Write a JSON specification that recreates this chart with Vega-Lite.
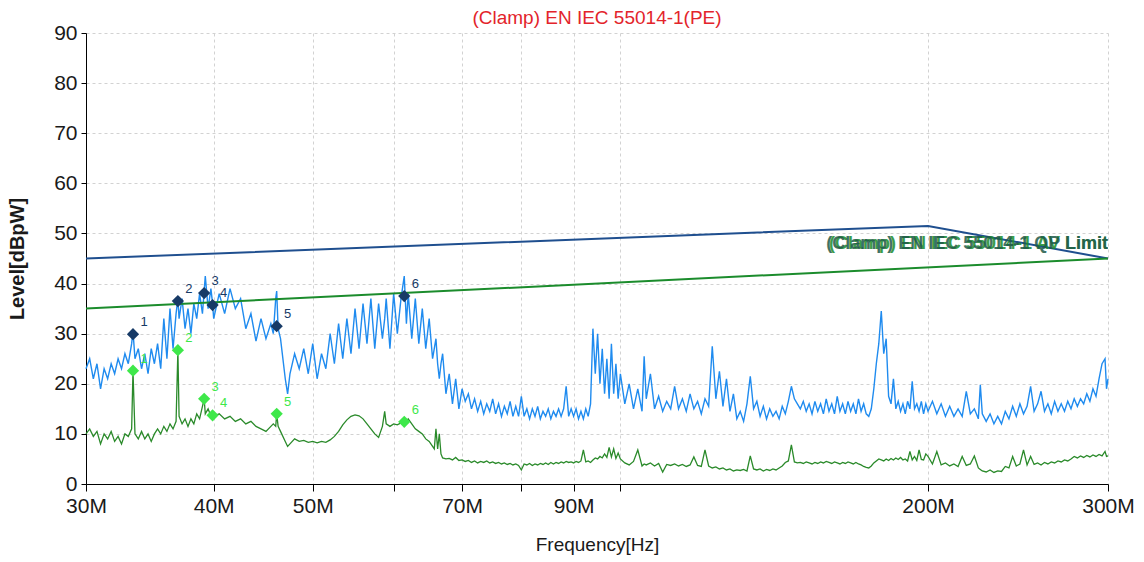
{
"$schema": "https://vega.github.io/schema/vega-lite/v6.json",
"width": 1022, "height": 451,
"autosize": "none",
"padding": {"left": 86, "top": 33, "right": 36, "bottom": 78},
"background": "white",
"title": {"text": "(Clamp) EN IEC 55014-1(PE)", "color": "#e3242b", "fontSize": 19, "font": "Liberation Sans", "fontWeight": "normal", "offset": -6},
"config": {"view": {"stroke": null}},
"datasets": {
"spec": [
{"f":30,"pk":23,"av":10},{"f":30.25,"pk":25,"av":11},{"f":30.5,"pk":21,"av":9.5},{"f":30.75,"pk":24,"av":10.5},{"f":31,"pk":19,"av":8},{"f":31.25,"pk":23,"av":10},{"f":31.5,"pk":21,"av":9},{"f":31.75,"pk":24,"av":10.5},{"f":32,"pk":22,"av":8.5},{"f":32.25,"pk":25,"av":9.5},{"f":32.5,"pk":23,"av":8},{"f":32.75,"pk":26,"av":10},{"f":33,"pk":24,"av":9.5},{"f":33.25,"pk":28,"av":11},{"f":33.35,"pk":30.5,"av":22.6},{"f":33.5,"pk":25,"av":10},{"f":33.75,"pk":27,"av":9},{"f":34,"pk":23,"av":10.5},{"f":34.25,"pk":26,"av":9},{"f":34.5,"pk":22,"av":10},{"f":34.75,"pk":27,"av":8.5},{"f":35,"pk":24,"av":10},{"f":35.25,"pk":28,"av":11},{"f":35.5,"pk":23,"av":10},{"f":35.75,"pk":33,"av":11.5},{"f":36,"pk":25,"av":10.5},{"f":36.25,"pk":35,"av":12},{"f":36.5,"pk":27,"av":11},{"f":36.75,"pk":34,"av":12.5},{"f":36.9,"pk":37,"av":26.7},{"f":37,"pk":33,"av":13.5},{"f":37.25,"pk":37,"av":12},{"f":37.5,"pk":31,"av":13},{"f":37.75,"pk":35,"av":11.5},{"f":38,"pk":30,"av":13},{"f":38.25,"pk":36,"av":12},{"f":38.5,"pk":33,"av":14},{"f":38.75,"pk":38,"av":13},{"f":39,"pk":34,"av":15.5},{"f":39.15,"pk":38.5,"av":17},{"f":39.25,"pk":41.5,"av":14},{"f":39.5,"pk":35,"av":15},{"f":39.75,"pk":39,"av":13.5},{"f":39.9,"pk":36,"av":13.7},{"f":40,"pk":33,"av":13.5},
{"f":40.5,"pk":38,"av":14},{"f":41,"pk":34,"av":13},{"f":41.5,"pk":39,"av":13.5},{"f":42,"pk":35,"av":12.5},{"f":42.5,"pk":37,"av":13},{"f":43,"pk":31,"av":12},{"f":43.5,"pk":34,"av":12.5},{"f":44,"pk":28.5,"av":11.5},{"f":44.5,"pk":33,"av":11},{"f":45,"pk":29,"av":10.5},{"f":45.5,"pk":32,"av":11.5},{"f":45.75,"pk":30,"av":12},{"f":46,"pk":37,"av":11.5},{"f":46.1,"pk":38.5,"av":14},{"f":46.25,"pk":31,"av":11.5},{"f":46.5,"pk":29,"av":10.5},{"f":47,"pk":21,"av":8.5},{"f":47.25,"pk":18,"av":7.5},{"f":47.5,"pk":22,"av":8},{"f":48,"pk":26,"av":9},{"f":48.5,"pk":23,"av":8.5},{"f":49,"pk":27,"av":8.7},{"f":49.5,"pk":22,"av":8.3},{"f":50,"pk":28,"av":8.5},{"f":50.5,"pk":21,"av":8.2},{"f":51,"pk":26,"av":8.5},{"f":51.5,"pk":23,"av":8.3},{"f":52,"pk":30,"av":8.8},{"f":52.5,"pk":24,"av":9.5},{"f":53,"pk":32,"av":10.5},{"f":53.5,"pk":25,"av":11.8},{"f":54,"pk":33,"av":12.8},{"f":54.5,"pk":26,"av":13.5},{"f":55,"pk":35,"av":13.8},{"f":55.5,"pk":27,"av":13.6},{"f":56,"pk":36,"av":13},{"f":56.5,"pk":28,"av":12},{"f":57,"pk":37,"av":11},{"f":57.5,"pk":27,"av":10},{"f":58,"pk":36,"av":9.3},{"f":58.5,"pk":29,"av":11.5},{"f":58.8,"pk":33,"av":14.5},{"f":59,"pk":37,"av":12},{"f":59.5,"pk":27,"av":11.5},{"f":60,"pk":38,"av":12},{"f":60.5,"pk":30,"av":11.8},{"f":61,"pk":37,"av":12.2},{"f":61.45,"pk":41.5,"av":12.4},{"f":61.75,"pk":32,"av":12.5},{"f":62,"pk":38,"av":13},{"f":62.5,"pk":29,"av":12},{"f":63,"pk":37,"av":11},{"f":63.5,"pk":28,"av":10.5},{"f":64,"pk":35,"av":10},{"f":64.5,"pk":27,"av":9},{"f":65,"pk":33,"av":8.5},{"f":65.5,"pk":25,"av":7.5},{"f":65.75,"pk":27,"av":7},{"f":66,"pk":29,"av":11},{"f":66.25,"pk":24,"av":7},{"f":66.5,"pk":21,"av":10},{"f":66.75,"pk":24,"av":6},{"f":67,"pk":26,"av":5.2},{"f":67.5,"pk":18,"av":5},{"f":68,"pk":22,"av":5.1},{"f":68.5,"pk":16,"av":4.8},{"f":69,"pk":21,"av":5.3},{"f":69.5,"pk":15,"av":4.7},{"f":70,"pk":19,"av":4.8},
{"f":70.5,"pk":16.5,"av":4.5},{"f":71,"pk":18,"av":4.7},{"f":71.5,"pk":15,"av":4.3},{"f":72,"pk":17,"av":4.6},{"f":72.5,"pk":14.5,"av":4.2},{"f":73,"pk":16.5,"av":4.5},{"f":73.5,"pk":14,"av":4.3},{"f":74,"pk":16,"av":4.6},{"f":74.5,"pk":14.5,"av":4.2},{"f":75,"pk":17,"av":4.4},{"f":75.5,"pk":14,"av":4.1},{"f":76,"pk":16,"av":4.3},{"f":76.5,"pk":13.5,"av":4.0},{"f":77,"pk":15.5,"av":4.2},{"f":77.5,"pk":14,"av":3.9},{"f":78,"pk":16.5,"av":4.1},{"f":78.5,"pk":13.5,"av":3.8},{"f":79,"pk":15.5,"av":4.0},{"f":79.5,"pk":13.5,"av":3.7},{"f":80,"pk":17.5,"av":2.8},{"f":80.5,"pk":13.5,"av":4.0},{"f":81,"pk":15,"av":3.8},{"f":81.5,"pk":13,"av":4.1},{"f":82,"pk":15,"av":3.7},{"f":82.5,"pk":13.5,"av":4.0},{"f":83,"pk":15.5,"av":3.8},{"f":83.5,"pk":13,"av":4.1},{"f":84,"pk":14.5,"av":3.9},{"f":84.5,"pk":13.5,"av":4.2},{"f":85,"pk":15,"av":3.9},{"f":85.5,"pk":13,"av":4.3},{"f":86,"pk":14.5,"av":4.0},{"f":86.5,"pk":13.5,"av":4.3},{"f":87,"pk":15,"av":4.1},{"f":87.5,"pk":13.5,"av":4.4},{"f":88,"pk":15,"av":4.2},{"f":88.5,"pk":19.5,"av":4.5},{"f":89,"pk":13.5,"av":4.3},{"f":89.5,"pk":15,"av":4.4},{"f":90,"pk":13.5,"av":4.2},{"f":90.5,"pk":15,"av":4.5},{"f":91,"pk":13,"av":4.3},{"f":91.5,"pk":14.5,"av":4.6},{"f":92,"pk":13,"av":6.8},{"f":92.5,"pk":15,"av":4.4},{"f":93,"pk":13.5,"av":4.6},{"f":93.5,"pk":16,"av":4.3},{"f":94,"pk":31,"av":4.8},{"f":94.5,"pk":22,"av":5.2},{"f":95,"pk":30,"av":5.0},{"f":95.5,"pk":20,"av":5.5},{"f":96,"pk":27,"av":5.2},{"f":96.5,"pk":18,"av":6.0},{"f":97,"pk":25,"av":5.3},{"f":97.5,"pk":17,"av":7.3},{"f":98,"pk":28,"av":5.4},{"f":98.5,"pk":18,"av":7.0},{"f":99,"pk":24,"av":5.1},{"f":99.5,"pk":17,"av":6.2},{"f":100,"pk":22,"av":5.0},
{"f":101,"pk":16,"av":4.2},{"f":102,"pk":20,"av":3.8},{"f":103,"pk":15,"av":4.5},{"f":104,"pk":19,"av":6.8},{"f":105,"pk":14.5,"av":3.6},{"f":105.5,"pk":25.5,"av":4.0},{"f":106,"pk":17,"av":3.8},{"f":107,"pk":22,"av":4.2},{"f":108,"pk":15,"av":3.6},{"f":109,"pk":17.5,"av":4.1},{"f":110,"pk":14.5,"av":2.4},{"f":111,"pk":16.5,"av":3.9},{"f":112,"pk":15,"av":3.7},{"f":113,"pk":19.5,"av":4.0},{"f":114,"pk":15,"av":3.6},{"f":115,"pk":17,"av":3.9},{"f":116,"pk":14.5,"av":3.5},{"f":117,"pk":18,"av":3.8},{"f":118,"pk":15,"av":5.4},{"f":119,"pk":16.5,"av":3.7},{"f":120,"pk":14,"av":3.5},{"f":121,"pk":17,"av":6.8},{"f":122,"pk":15.5,"av":3.6},{"f":123,"pk":27.5,"av":3.2},{"f":124,"pk":17,"av":3.4},{"f":125,"pk":22.5,"av":3.0},{"f":126,"pk":15.5,"av":3.2},{"f":127,"pk":21,"av":2.8},{"f":128,"pk":14.5,"av":3.0},{"f":129,"pk":18,"av":2.6},{"f":130,"pk":13,"av":2.8},{"f":131,"pk":14.5,"av":2.7},{"f":132,"pk":12.5,"av":2.9},{"f":133,"pk":16,"av":2.6},{"f":134,"pk":21.5,"av":5.6},{"f":135,"pk":15,"av":3.0},{"f":136,"pk":16.5,"av":2.8},{"f":137,"pk":13.5,"av":3.0},{"f":138,"pk":15.5,"av":2.6},{"f":139,"pk":13,"av":2.9},{"f":140,"pk":15,"av":2.7},{"f":141,"pk":13.5,"av":3.0},{"f":142,"pk":14.5,"av":2.8},{"f":143,"pk":13,"av":3.2},{"f":144,"pk":15.5,"av":3.6},{"f":145,"pk":14,"av":4.3},{"f":146,"pk":16.5,"av":4.6},{"f":147,"pk":19.5,"av":7.8},{"f":148,"pk":17,"av":4.4},{"f":149,"pk":16,"av":4.2},{"f":150,"pk":15,"av":4.3},{"f":151,"pk":16.5,"av":4.1},{"f":152,"pk":14.5,"av":4.4},{"f":153,"pk":16,"av":4.2},{"f":154,"pk":14,"av":4.0},{"f":155,"pk":16.5,"av":4.3},{"f":156,"pk":14.5,"av":4.1},{"f":157,"pk":16,"av":4.4},{"f":158,"pk":14,"av":4.2},{"f":159,"pk":17,"av":4.5},{"f":160,"pk":14.5,"av":4.3},{"f":161,"pk":16,"av":4.1},{"f":162,"pk":14,"av":4.4},{"f":163,"pk":17.5,"av":4.2},{"f":164,"pk":14.5,"av":4.0},{"f":165,"pk":16,"av":4.3},{"f":166,"pk":14,"av":4.1},{"f":167,"pk":16.5,"av":4.4},{"f":168,"pk":14.5,"av":4.2},{"f":169,"pk":16,"av":4.0},{"f":170,"pk":14,"av":4.3},{"f":171,"pk":17,"av":4.0},{"f":172,"pk":14.5,"av":3.8},{"f":173,"pk":16,"av":3.5},{"f":174,"pk":14,"av":3.3},{"f":175,"pk":13.5,"av":3.2},{"f":176,"pk":15,"av":3.6},{"f":177,"pk":19,"av":4.2},{"f":178,"pk":24,"av":4.6},{"f":179,"pk":28,"av":5.0},{"f":180,"pk":34.5,"av":4.8},{"f":181,"pk":26,"av":4.6},{"f":182,"pk":29,"av":5.0},{"f":183,"pk":17.5,"av":4.7},{"f":184,"pk":16,"av":5.1},{"f":185,"pk":21,"av":4.8},{"f":186,"pk":15,"av":5.2},{"f":187,"pk":16.5,"av":4.9},{"f":188,"pk":14.5,"av":5.3},{"f":189,"pk":16,"av":4.8},{"f":190,"pk":14,"av":5.0},{"f":191,"pk":16.5,"av":4.6},{"f":192,"pk":15,"av":6.5},{"f":193,"pk":20.5,"av":4.8},{"f":194,"pk":15,"av":5.5},{"f":195,"pk":16,"av":4.7},{"f":196,"pk":14.5,"av":6.8},{"f":197,"pk":16.5,"av":4.9},{"f":198,"pk":14,"av":4.8},{"f":199,"pk":16,"av":6.0},{"f":200,"pk":14.5,"av":5.5},
{"f":202,"pk":16.5,"av":4.0},{"f":204,"pk":14,"av":6.5},{"f":206,"pk":16,"av":3.8},{"f":208,"pk":13.5,"av":4.2},{"f":210,"pk":15.5,"av":3.6},{"f":212,"pk":13.5,"av":4.0},{"f":214,"pk":15,"av":3.5},{"f":216,"pk":13.5,"av":5.5},{"f":218,"pk":18.5,"av":3.7},{"f":220,"pk":14,"av":4.0},{"f":222,"pk":15,"av":5.6},{"f":224,"pk":13,"av":3.2},{"f":225,"pk":19.8,"av":2.9},{"f":226,"pk":14,"av":2.6},{"f":228,"pk":12.5,"av":2.4},{"f":230,"pk":14,"av":2.8},{"f":232,"pk":12,"av":2.3},{"f":234,"pk":13.5,"av":2.6},{"f":236,"pk":12,"av":2.5},{"f":238,"pk":14.5,"av":3.5},{"f":240,"pk":13,"av":3.2},{"f":242,"pk":15.5,"av":5.5},{"f":244,"pk":13.5,"av":3.6},{"f":246,"pk":16,"av":4.0},{"f":248,"pk":14,"av":6.8},{"f":250,"pk":15.5,"av":3.8},{"f":252,"pk":19.5,"av":5.5},{"f":254,"pk":14.5,"av":3.9},{"f":256,"pk":16,"av":4.2},{"f":258,"pk":18.5,"av":3.8},{"f":260,"pk":14.5,"av":4.3},{"f":262,"pk":16,"av":4.0},{"f":264,"pk":14,"av":4.4},{"f":266,"pk":16.5,"av":4.2},{"f":268,"pk":14.5,"av":4.6},{"f":270,"pk":16,"av":4.4},{"f":272,"pk":14.5,"av":4.8},{"f":274,"pk":16.5,"av":4.6},{"f":276,"pk":15,"av":5.0},{"f":278,"pk":17,"av":5.5},{"f":280,"pk":15.5,"av":5.2},{"f":282,"pk":17,"av":5.6},{"f":284,"pk":16,"av":5.3},{"f":286,"pk":18,"av":5.7},{"f":288,"pk":16.5,"av":5.4},{"f":290,"pk":19,"av":5.8},{"f":292,"pk":17.5,"av":5.5},{"f":294,"pk":21,"av":5.9},{"f":296,"pk":24,"av":5.6},{"f":298,"pk":25,"av":6.5},{"f":299,"pk":19,"av":5.5},{"f":300,"pk":21,"av":5.6}
],
"qp": [{"f":30,"v":45},{"f":200,"v":51.5},{"f":300,"v":45}],
"avl": [{"f":30,"v":35},{"f":300,"v":45}],
"lbl": [{"f":300,"v":47.9,"s":"(Clamp) EN IEC 55014-1 AV Limit","k":"AV"},{"f":300,"v":47.9,"s":"(Clamp) EN IEC 55014-1 QP Limit","k":"QP"}],
"mk": [
{"f":33.35,"v":29.9,"n":"1","t":"QP"},{"f":36.9,"v":36.5,"n":"2","t":"QP"},{"f":39.15,"v":38.1,"n":"3","t":"QP"},{"f":39.9,"v":35.7,"n":"4","t":"QP"},{"f":46.1,"v":31.5,"n":"5","t":"QP"},{"f":61.45,"v":37.5,"n":"6","t":"QP"},
{"f":33.35,"v":22.6,"n":"1","t":"AV"},{"f":36.9,"v":26.7,"n":"2","t":"AV"},{"f":39.15,"v":17.0,"n":"3","t":"AV"},{"f":39.9,"v":13.7,"n":"4","t":"AV"},{"f":46.1,"v":14.0,"n":"5","t":"AV"},{"f":61.45,"v":12.4,"n":"6","t":"AV"}
]
},
"layer": [
{
"data": {"name": "spec"},
"mark": {"type": "line", "color": "#1f8bef", "strokeWidth": 1.4, "interpolate": "linear"},
"encoding": {
"x": {"field": "f", "type": "quantitative", "scale": {"type": "log", "domain": [30, 300], "nice": false},
"axis": {"title": "Frequency[Hz]", "values": [30,40,50,60,70,80,90,100,200,300], "labelExpr": "indexof([30,40,50,70,90,200,300], datum.value) >= 0 ? datum.value + 'M' : ''", "labelOverlap": false, "labelFlush": false, "grid": true, "gridDash": [3,3], "gridColor": "#d2d2d2", "domainColor": "#000000", "tickColor": "#000000", "tickSize": 7, "labelFont": "Liberation Sans", "labelFontSize": 21, "labelColor": "#1a1a1a", "labelPadding": 4, "titleFont": "Liberation Sans", "titleFontSize": 19, "titleFontWeight": "normal", "titleColor": "#1a1a1a", "titlePadding": 19}},
"y": {"field": "pk", "type": "quantitative", "scale": {"domain": [0, 90], "nice": false},
"axis": {"title": "Level[dBpW]", "values": [0,10,20,30,40,50,60,70,80,90], "grid": true, "gridDash": [3,3], "gridColor": "#d2d2d2", "domainColor": "#000000", "tickColor": "#000000", "tickSize": 5, "labelFont": "Liberation Sans", "labelFontSize": 21, "labelColor": "#1a1a1a", "labelPadding": 4, "titleFont": "Liberation Sans", "titleFontSize": 20, "titleFontWeight": "bold", "titleColor": "#1a1a1a", "titlePadding": 26}}
}
},
{
"data": {"name": "spec"},
"mark": {"type": "line", "color": "#2a8a2a", "strokeWidth": 1.3},
"encoding": {
"x": {"field": "f", "type": "quantitative", "title": "Frequency[Hz]"},
"y": {"field": "av", "type": "quantitative", "title": "Level[dBpW]"}
}
},
{
"data": {"name": "qp"},
"mark": {"type": "line", "color": "#1f4f8f", "strokeWidth": 2},
"encoding": {
"x": {"field": "f", "type": "quantitative", "title": "Frequency[Hz]"},
"y": {"field": "v", "type": "quantitative", "title": "Level[dBpW]"}
}
},
{
"data": {"name": "avl"},
"mark": {"type": "line", "color": "#1b8c2c", "strokeWidth": 2},
"encoding": {
"x": {"field": "f", "type": "quantitative", "title": "Frequency[Hz]"},
"y": {"field": "v", "type": "quantitative", "title": "Level[dBpW]"}
}
},
{
"data": {"name": "lbl"},
"mark": {"type": "text", "align": "right", "baseline": "middle", "font": "Liberation Sans", "fontSize": 18, "fontWeight": "bold", "opacity": 0.85},
"encoding": {
"x": {"field": "f", "type": "quantitative", "title": "Frequency[Hz]"},
"y": {"field": "v", "type": "quantitative", "title": "Level[dBpW]"},
"text": {"field": "s"},
"color": {"field": "k", "type": "nominal", "scale": {"domain": ["AV", "QP"], "range": ["#1b8c2c", "#1f5a4a"]}, "legend": null}
}
},
{
"data": {"name": "mk"},
"mark": {"type": "point", "shape": "diamond", "filled": true, "size": 150, "opacity": 1},
"encoding": {
"x": {"field": "f", "type": "quantitative", "title": "Frequency[Hz]"},
"y": {"field": "v", "type": "quantitative", "title": "Level[dBpW]"},
"fill": {"field": "t", "type": "nominal", "scale": {"domain": ["QP", "AV"], "range": ["#173a66", "#3ee84a"]}, "legend": null}
}
},
{
"data": {"name": "mk"},
"mark": {"type": "text", "dx": 11, "dy": -12, "font": "Liberation Sans", "fontSize": 13},
"encoding": {
"x": {"field": "f", "type": "quantitative", "title": "Frequency[Hz]"},
"y": {"field": "v", "type": "quantitative", "title": "Level[dBpW]"},
"text": {"field": "n"},
"fill": {"field": "t", "type": "nominal", "legend": null}
}
}
],
"resolve": {"scale": {"color": "independent"}}
}
